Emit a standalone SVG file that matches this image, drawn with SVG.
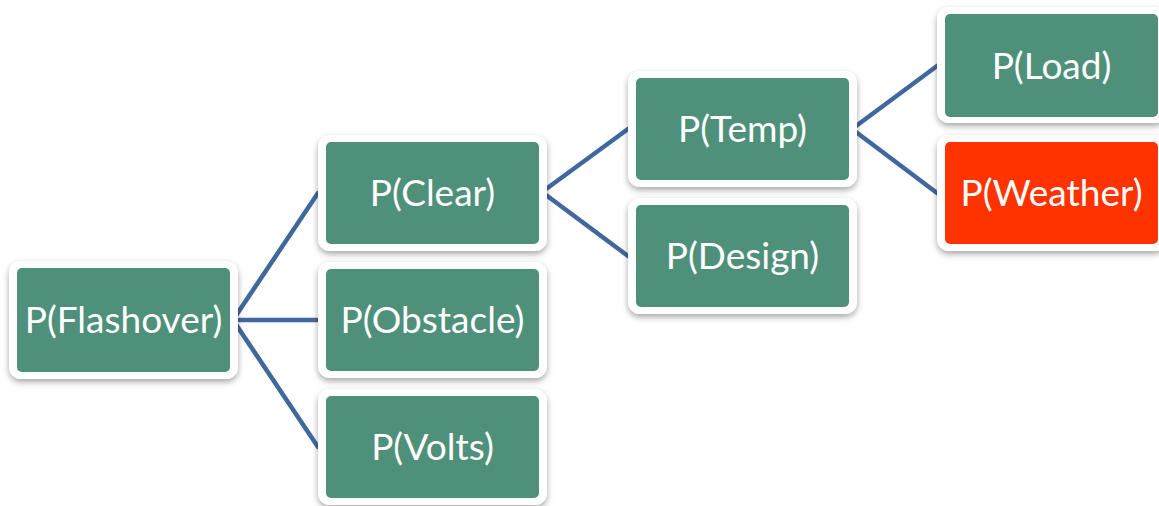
<svg xmlns="http://www.w3.org/2000/svg" width="1159" height="506" viewBox="0 0 1159 506">
  <defs>
    <filter id="shadow" x="-10%" y="-15%" width="120%" height="140%">
      <feDropShadow dx="0" dy="3" stdDeviation="3" flood-color="#000" flood-opacity="0.35"/>
    </filter>
    <style>
      .frame { fill: #ffffff; filter: url(#shadow); }
      .box { fill: #4e907a; }
      .hot { fill: #ff3300; }
      .label { fill: #ffffff; font-family: "Lato", "Liberation Sans", sans-serif; font-size: 37px; text-anchor: middle; }
      .link { stroke: #41689e; stroke-width: 4.5; fill: none; stroke-linecap: round; }
    </style>
  </defs>
  <rect width="1159" height="506" fill="#ffffff"/>

  <g id="connectors">
    <path class="link" d="M233 320 L318 193"/>
    <path class="link" d="M233 320 L318 320"/>
    <path class="link" d="M233 320 L318 447"/>
    <path class="link" d="M542 192 L628 129"/>
    <path class="link" d="M542 192 L628 256"/>
    <path class="link" d="M852 129 L937 66"/>
    <path class="link" d="M852 129 L937 193"/>
  </g>

  <g id="flashover">
    <rect class="frame" x="9" y="261" width="229" height="118" rx="12"/>
    <rect class="box" x="17" y="268" width="213" height="104" rx="5"/>
    <text class="label" x="123.5" y="333">P(Flashover)</text>
  </g>
  <g id="clear">
    <rect class="frame" x="318" y="135" width="229" height="116" rx="12"/>
    <rect class="box" x="326" y="142" width="213" height="102" rx="5"/>
    <text class="label" x="432.5" y="206">P(Clear)</text>
  </g>
  <g id="obstacle">
    <rect class="frame" x="318" y="262" width="229" height="116" rx="12"/>
    <rect class="box" x="326" y="269" width="213" height="102" rx="5"/>
    <text class="label" x="432.5" y="333">P(Obstacle)</text>
  </g>
  <g id="volts">
    <rect class="frame" x="318" y="389" width="229" height="116" rx="12"/>
    <rect class="box" x="326" y="396" width="213" height="102" rx="5"/>
    <text class="label" x="432.5" y="460">P(Volts)</text>
  </g>
  <g id="temp">
    <rect class="frame" x="628" y="71" width="229" height="116" rx="12"/>
    <rect class="box" x="636" y="78" width="213" height="102" rx="5"/>
    <text class="label" x="742.5" y="142">P(Temp)</text>
  </g>
  <g id="design">
    <rect class="frame" x="628" y="198" width="229" height="116" rx="12"/>
    <rect class="box" x="636" y="205" width="213" height="102" rx="5"/>
    <text class="label" x="742.5" y="269">P(Design)</text>
  </g>
  <g id="load">
    <rect class="frame" x="937" y="7" width="229" height="116" rx="12"/>
    <rect class="box" x="945" y="14" width="213" height="103" rx="5"/>
    <text class="label" x="1051.5" y="79">P(Load)</text>
  </g>
  <g id="weather">
    <rect class="frame" x="937" y="135" width="229" height="116" rx="12"/>
    <rect class="hot" x="945" y="142" width="213" height="102" rx="5"/>
    <text class="label" x="1051.5" y="206">P(Weather)</text>
  </g>
</svg>
